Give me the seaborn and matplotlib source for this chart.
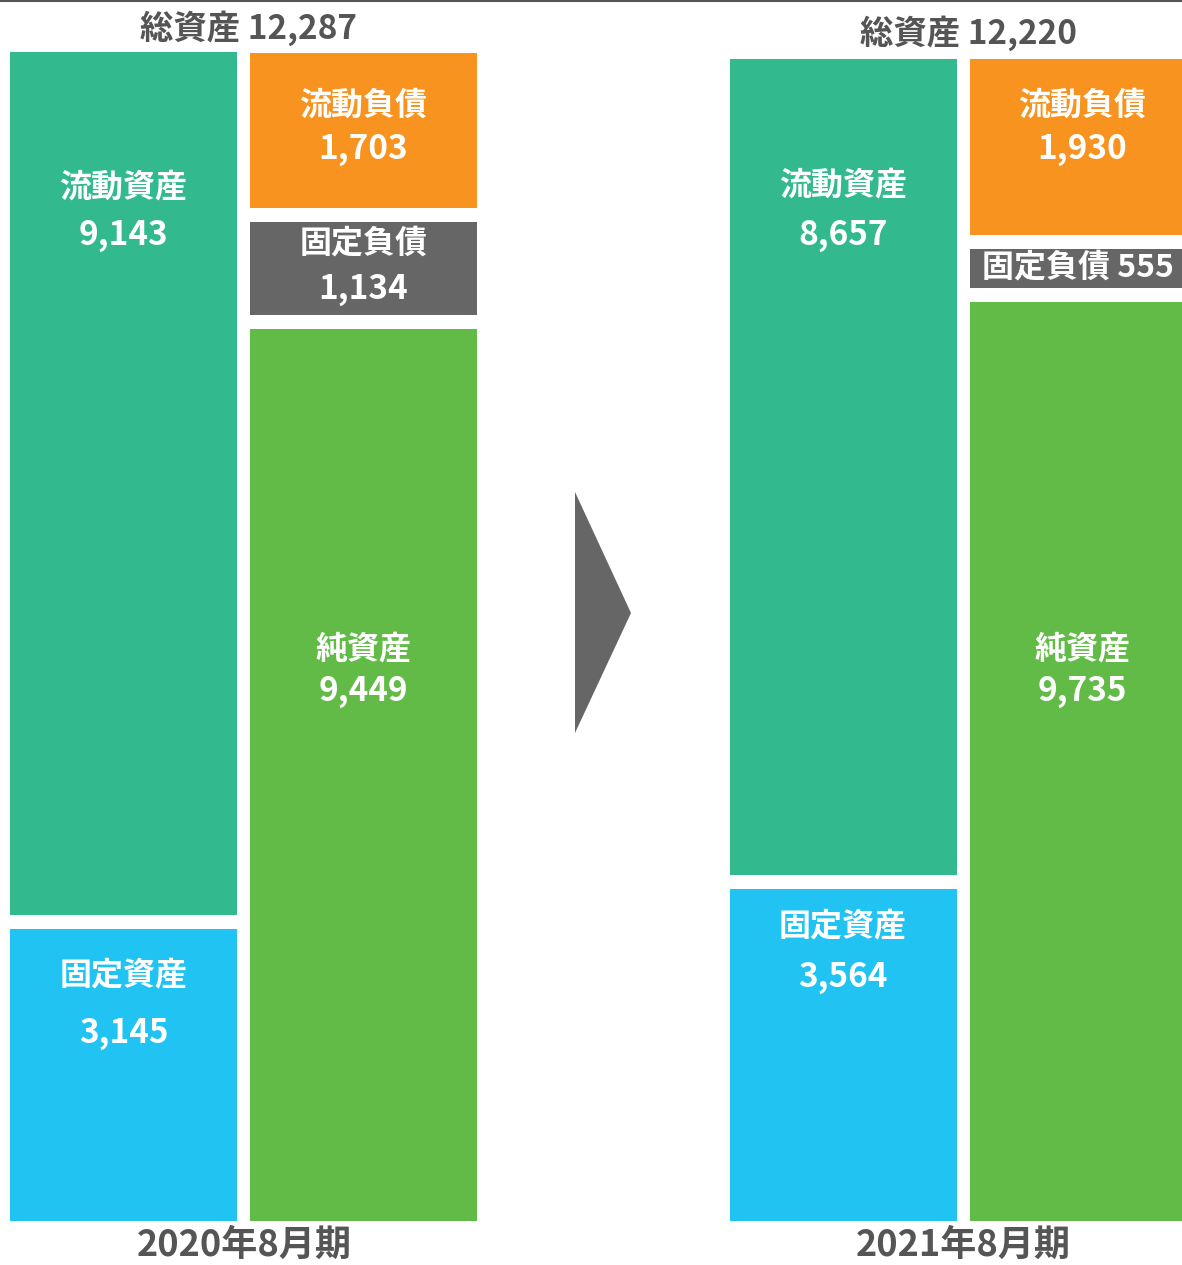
import matplotlib
matplotlib.use("Agg")
import matplotlib.pyplot as plt
from matplotlib.patches import Polygon
import seaborn as sns
import numpy as np

# Balance sheet data (million yen)
periods = ["2020年8月期", "2021年8月期"]
total_assets = [12287, 12220]
current_assets = [9143, 8657]
fixed_assets = [3145, 3564]
current_liab = [1703, 1930]
fixed_liab = [1134, 555]
net_assets = [9449, 9735]

# colours
C_CUR_ASSET = "#32B98D"
C_FIX_ASSET = "#21C3F2"
C_CUR_LIAB = "#F7931E"
C_FIX_LIAB = "#666666"
C_NET = "#62BB46"
C_TEXT = "#555555"

W, H = 1182, 1265
PX_PER_UNIT = 0.0951   # vertical scale
BASE_PX = 1221         # pixel row of zero
GAP = 7 / PX_PER_UNIT  # half white gap between stacked segments

sns.set_theme(style="white")
plt.rcParams['font.family'] = ['Noto Sans CJK JP', 'DejaVu Sans']

fig = plt.figure(figsize=(W / 100, H / 100), dpi=100)
ax = fig.add_axes([0, 0, 1, 1])
ax.set_xlim(-0.515, (W - 123.5) / 240)
ax.set_ylim(-(H - BASE_PX) / PX_PER_UNIT, BASE_PX / PX_PER_UNIT)
ax.axis("off")

bar_w = 227 / 240
col_x = [[0, 1], [3, 4]]  # assets column, liabilities column per period


def stack(x, values, colors):
    bottom = 0
    n = len(values)
    for i, (v, c) in enumerate(zip(values, colors)):
        lo = bottom + (GAP if i > 0 else 0)
        hi = bottom + v - (GAP if i < n - 1 else 0)
        ax.bar(x, hi - lo, bottom=lo, width=bar_w, color=c, linewidth=0)
        bottom += v


for p in range(len(periods)):
    ax_x, li_x = col_x[p]
    stack(ax_x, [fixed_assets[p], current_assets[p]], [C_FIX_ASSET, C_CUR_ASSET])
    stack(li_x, [net_assets[p], fixed_liab[p], current_liab[p]],
          [C_NET, C_FIX_LIAB, C_CUR_LIAB])


def ftext(px, py, s, **kw):
    fig.text(px / W, 1 - py / H, s, fontweight="bold", **kw)


def fmt(v):
    return f"{v:,}"


def label(px, py_name, py_val, name, val):
    ftext(px, py_name + 2, name, color="white", fontsize=23, ha="center", va="center")
    ftext(px, py_val + 2, fmt(val), color="white", fontsize=24, ha="center", va="center")


# label layout (pixel rows)
asset_cx = [123.5, 843]
liab_cx = [363.5, 1082.5]
cur_asset_y = [(185, 233), (183, 234)]
fix_asset_y = [(973, 1032), (924, 975)]
cur_liab_y = [(104, 148), (104, 148)]
net_y = [(647, 690), (647, 690)]
title_x = [248, 968]
title_y = [28, 33]
period_x = [244, 963]

for p in range(len(periods)):
    label(asset_cx[p], *cur_asset_y[p], "流動資産", current_assets[p])
    label(asset_cx[p], *fix_asset_y[p], "固定資産", fixed_assets[p])
    label(liab_cx[p], *cur_liab_y[p], "流動負債", current_liab[p])
    label(liab_cx[p], *net_y[p], "純資産", net_assets[p])
    ftext(title_x[p], title_y[p], f"総資産 {fmt(total_assets[p])}", color=C_TEXT,
          fontsize=24, ha="center", va="center")
    ftext(period_x[p], 1245, periods[p], color=C_TEXT, fontsize=26,
          ha="center", va="center")

# fixed liabilities labels
label(liab_cx[0], 241, 287, "固定負債", fixed_liab[0])
ftext(982, 267, f"固定負債 {fmt(fixed_liab[1])}", color="white", fontsize=23,
      ha="left", va="center")

# arrow between periods
tri = np.array([[575, 492], [575, 733], [631, 613]], dtype=float)
tri[:, 0] /= W
tri[:, 1] = 1 - tri[:, 1] / H
fig.patches.append(Polygon(tri, closed=True, transform=fig.transFigure,
                           facecolor="#666666", edgecolor="none"))

# thin top rule
fig.add_artist(plt.Line2D([0, 1], [1 - 1 / H, 1 - 1 / H], transform=fig.transFigure,
                          color="#555555", linewidth=1.5))

fig.savefig("out.png", dpi=100)
